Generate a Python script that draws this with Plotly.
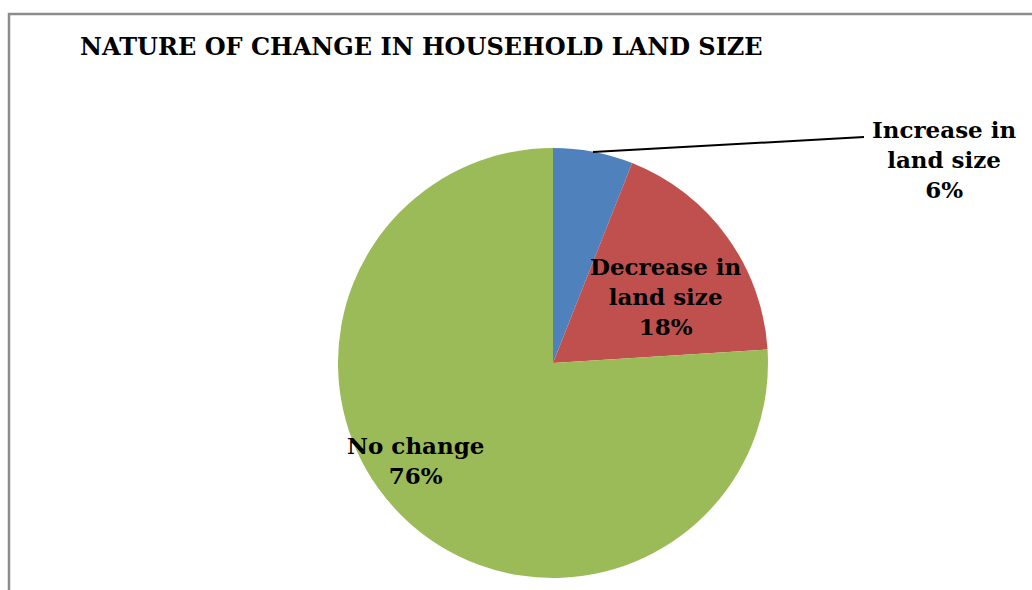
import plotly.graph_objects as go

categories = ["Increase in<br>land size", "Decrease in<br>land size", "No change"]
values = [6, 18, 76]
colors = ["#4F81BD", "#C0504D", "#9BBB59"]
title_text = "NATURE OF CHANGE IN HOUSEHOLD LAND SIZE"

W, H = 1032, 590
FONT = "DejaVu Serif, Liberation Serif, serif"

fig = go.Figure(go.Pie(
    labels=categories,
    values=values,
    marker=dict(colors=colors, line=dict(width=0)),
    sort=False,
    direction="clockwise",
    rotation=0,
    textinfo="none",
    hoverinfo="label+percent",
    showlegend=False,
    domain=dict(x=[338 / W, 768 / W], y=[(H - 578) / H, (H - 148) / H]),
))

total = sum(values)
label_pos = [(944, 160), (666, 297), (415, 460)]
annotations = []
for cat, v, (px, py) in zip(categories, values, label_pos):
    annotations.append(dict(
        x=px / W, y=1 - py / H, xref="paper", yref="paper",
        xanchor="center", yanchor="middle",
        text=f"<b>{cat}<br>{round(100 * v / total)}%</b>",
        showarrow=False, align="center",
        font=dict(family=FONT, size=23, color="black"),
    ))

annotations.append(dict(
    x=78 / W, y=1 - 47 / H, xref="paper", yref="paper",
    xanchor="left", yanchor="middle",
    text=f"<b>{title_text}</b>", showarrow=False,
    font=dict(family=FONT, size=24, color="black"),
))

shapes = [
    dict(type="line", xref="paper", yref="paper",
         x0=593 / W, y0=1 - 152 / H, x1=864 / W, y1=1 - 137 / H,
         line=dict(color="black", width=2)),
    dict(type="rect", xref="paper", yref="paper",
         x0=9 / W, y0=-0.05, x1=1.05, y1=1 - 14 / H,
         line=dict(color="#8C8C8C", width=2.5), fillcolor="rgba(0,0,0,0)"),
]

fig.update_layout(
    width=W, height=H,
    margin=dict(l=0, r=0, t=0, b=0),
    paper_bgcolor="white", plot_bgcolor="white",
    annotations=annotations, shapes=shapes,
)

fig.write_html("out.html", config={"displayModeBar": False},
               post_script="document.body.style.margin='0px';")
